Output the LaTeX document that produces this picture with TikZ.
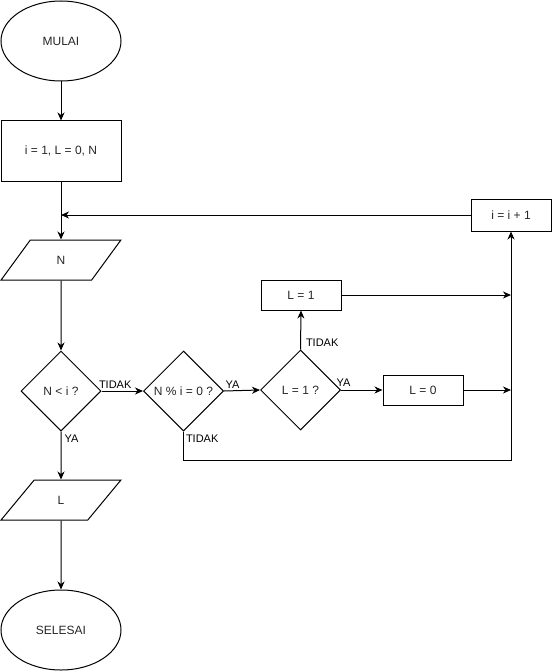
\documentclass[tikz,border=0pt]{standalone}
\usepackage{fontspec}
\setmainfont{Liberation Sans}
\usetikzlibrary{shapes.geometric, arrows.meta}
\newcommand{\widthterm}{120pt}
\newcommand{\widthbox}{80pt}
\tikzset{
    common/.style={draw, line width=1pt, inner sep=0pt, font=\fontsize{12}{14}\selectfont, text=black!85},
    terminal/.style={common, ellipse, minimum width=\widthterm, minimum height=80pt},
    process/.style={common, rectangle, minimum width=\widthbox, minimum height=30pt},
    io/.style={common, trapezium, trapezium left angle=63.43, trapezium right angle=116.57,
        trapezium stretches=true, minimum width=\widthterm, minimum height=40pt},
    decision/.style={common, diamond, aspect=1, minimum width=\widthbox, minimum height=\widthbox},
    flow/.style={line width=1pt, -{Stealth[length=8pt, width=7pt, inset=2.5pt]}},
    line/.style={line width=1pt},
    lbl/.style={font=\fontsize{11}{13}\selectfont, inner sep=1pt}
}
\begin{document}
\begin{tikzpicture}[x=1pt, y=-1pt]
    \useasboundingbox (0,0) rectangle (552,671);
    % main column
    \node[terminal] (mulai) at (61,41) {MULAI};
    \node[process, minimum width=\widthterm, minimum height=60pt] (init) at (61,151) {i = 1, L = 0, N};
    \node[io] (inN) at (61,260) {N};
    \node[decision] (nlt) at (61,391) {N < i ?};
    \node[io] (outL) at (61,500) {L};
    \node[terminal] (selesai) at (61,630) {SELESAI};
    % loop body
    \node[decision] (nmod) at (183.5,391) {N \% i = 0 ?};
    \node[decision] (lq) at (300.5,390) {L = 1 ?};
    \node[process] (lone) at (301,295) {L = 1};
    \node[process] (lzero) at (423,390) {L = 0};
    \node[process, minimum height=32pt] (inc) at (511,215) {i = i + 1};
    \coordinate (join) at (61,215);
    \coordinate (loopend) at (511,460);

    \draw[flow] (mulai) -- (init);
    \draw[flow] (init) -- (inN);
    \draw[flow] (inc.west) -- (join);
    \draw[flow] (inN) -- (nlt);
    \draw[flow] (nlt.east) -- node[lbl, pos=0, anchor=south west, xshift=-4pt, yshift=1pt] {TIDAK} (nmod.west);
    \draw[flow] (nlt.south) -- node[lbl, pos=0, anchor=north west, xshift=2pt, yshift=-2pt] {YA} (outL);
    \draw[flow] (outL) -- (selesai);
    \draw[flow] (nmod.east) -- node[lbl, pos=0, anchor=south west, yshift=1pt] {YA} (lq.west);
    \draw[flow] (lq.east) -- node[lbl, pos=0, anchor=south west, xshift=-6pt, yshift=2pt] {YA} (lzero.west);
    \draw[flow] (lq.north) -- node[lbl, pos=0, anchor=south west, xshift=4pt, yshift=2pt] {TIDAK} (lone.south);
    \draw[flow] (lone.east) -- (lone.east -| loopend);
    \draw[flow] (lzero.east) -- (lzero.east -| loopend);
    \draw[flow] (nmod.south) node[lbl, anchor=north west, xshift=1pt, yshift=-2pt] {TIDAK} |- (loopend) -- (inc.south);
\end{tikzpicture}
\end{document}
